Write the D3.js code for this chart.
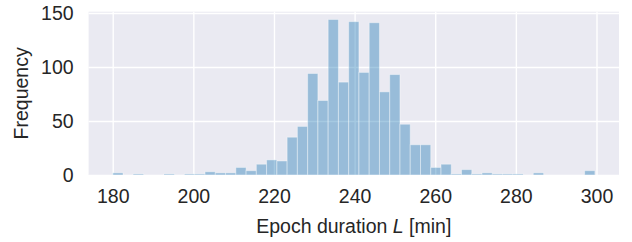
<!DOCTYPE html>
<html>
<head>
<meta charset="utf-8">
<script src="https://cdn.jsdelivr.net/npm/d3@7"></script>
<style>
  body { margin: 0; background: #fff; }
  text { font-family: "Liberation Sans", Arial, sans-serif; fill: #262626; }
</style>
</head>
<body>
<div id="chart"></div>
<script>
// histogram of epoch durations, 47 equal bins
const binStart = 180;
const binEnd = 299.6;
const counts = [
  2, 0, 1, 0, 0, 1, 0, 1, 1, 3,
  2, 2, 7, 4, 10, 14, 13, 35, 45, 94,
  69, 144, 86, 142, 95, 141, 77, 93, 47, 28,
  28, 7, 10, 1, 5, 1, 2, 1, 1, 1,
  0, 2, 0, 0, 0, 0, 4
];
const xTicks = [180, 200, 220, 240, 260, 280, 300];
const yTicks = [0, 50, 100, 150];

const width = 632, height = 242;
const margin = { top: 11.7, right: 13, bottom: 67, left: 88.6 };
const w = width - margin.left - margin.right;
const h = height - margin.top - margin.bottom;

const binWidth = (binEnd - binStart) / counts.length;
const bins = counts.map((c, i) => ({
  x0: binStart + i * binWidth,
  x1: binStart + (i + 1) * binWidth,
  count: c,
}));

const pad = 0.05 * (binEnd - binStart);
const x = d3.scaleLinear().domain([binStart - pad, binEnd + pad]).range([0, w]);
const y = d3.scaleLinear().domain([0, d3.max(counts) * 1.05]).range([h, 0]);

const svg = d3.select("#chart").append("svg")
  .attr("width", width)
  .attr("height", height);

const g = svg.append("g").attr("transform", `translate(${margin.left},${margin.top})`);

g.append("rect")
  .attr("width", w)
  .attr("height", h)
  .attr("fill", "#eaeaf2");

// grid
g.append("g")
  .attr("transform", `translate(0,${h})`)
  .call(d3.axisBottom(x).tickValues(xTicks).tickSize(-h).tickFormat(""))
  .call(s => s.select(".domain").remove())
  .call(s => s.selectAll("line").attr("stroke", "#fff").attr("stroke-width", 1.4));

g.append("g")
  .call(d3.axisLeft(y).tickValues(yTicks).tickSize(-w).tickFormat(""))
  .call(s => s.select(".domain").remove())
  .call(s => s.selectAll("line").attr("stroke", "#fff").attr("stroke-width", 1.4));

// bars
g.append("g")
  .selectAll("rect")
  .data(bins.filter(d => d.count > 0))
  .enter().append("rect")
    .attr("x", d => x(d.x0))
    .attr("y", d => y(d.count))
    .attr("width", d => x(d.x1) - x(d.x0))
    .attr("height", d => y(0) - y(d.count))
    .attr("fill", "#1f77b4")
    .attr("fill-opacity", 0.4)
    .attr("stroke", "#fff")
    .attr("stroke-opacity", 0.4)
    .attr("stroke-width", 1);

// tick labels
const xAxis = g.append("g")
  .attr("transform", `translate(0,${h})`)
  .call(d3.axisBottom(x).tickValues(xTicks).tickSize(0).tickPadding(14));
xAxis.select(".domain").remove();
xAxis.selectAll("text").attr("font-size", "19.5px").attr("fill", "#262626")
  .style("font-family", '"Liberation Sans", Arial, sans-serif');

const yAxis = g.append("g")
  .call(d3.axisLeft(y).tickValues(yTicks).tickSize(0).tickPadding(15));
yAxis.select(".domain").remove();
yAxis.selectAll("text").attr("font-size", "19.5px").attr("fill", "#262626")
  .style("font-family", '"Liberation Sans", Arial, sans-serif');

// axis titles
const xLabel = svg.append("text")
  .attr("x", margin.left + w / 2)
  .attr("y", 233)
  .attr("text-anchor", "middle")
  .attr("font-size", "19.5px");
xLabel.append("tspan").text("Epoch duration ");
xLabel.append("tspan").attr("font-style", "italic").text("L");
xLabel.append("tspan").text(" [min]");

svg.append("text")
  .attr("transform", `translate(27.5,${margin.top + h / 2}) rotate(-90)`)
  .attr("text-anchor", "middle")
  .attr("font-size", "19.5px")
  .text("Frequency");
</script>
</body>
</html>
